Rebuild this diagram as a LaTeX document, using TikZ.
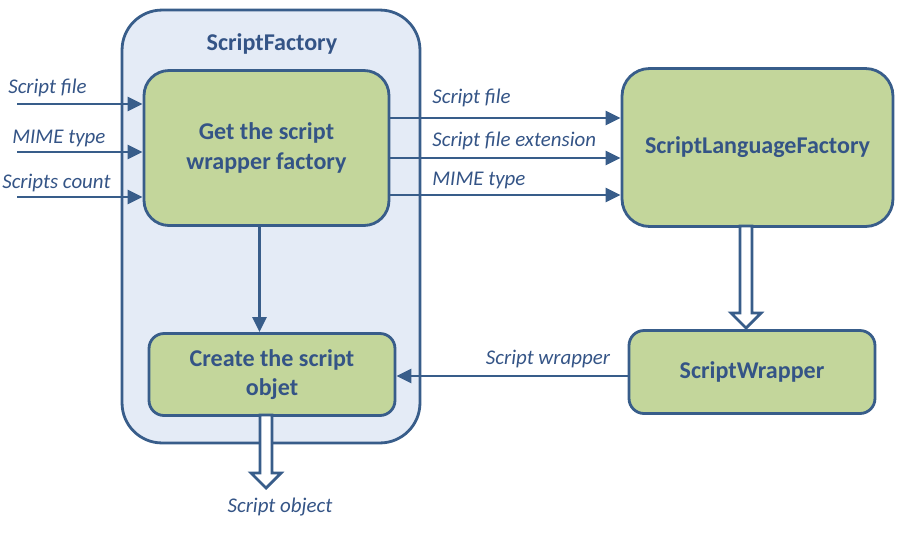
\documentclass[tikz,border=0pt]{standalone}
\usepackage{fontspec}
\setmainfont{Carlito}
\usetikzlibrary{arrows.meta,calc}
\definecolor{sfline}{RGB}{56,93,138}
\definecolor{sftext}{RGB}{52,84,134}
\definecolor{sfgreen}{RGB}{195,214,155}
\definecolor{sfpale}{RGB}{228,235,246}
\newcommand{\hollowdown}[2]{\draw[hollow] ($(#1)+(-6,0)$) -- ($(#2)+(-6,-15)$) -- ($(#2)+(-15,-15)$) -- (#2) -- ($(#2)+(15,-15)$) -- ($(#2)+(6,-15)$) -- ($(#1)+(6,0)$) -- cycle;}
\begin{document}
\begin{tikzpicture}[x=0.02cm, y=-0.02cm,
		box/.style={draw=sfline, fill=sfgreen, line width=1.6pt, inner sep=0pt, text=sftext, align=center, font=\bfseries\fontsize{13.7}{16.8}\selectfont},
		lbl/.style={text=sftext, inner sep=0pt, font=\itshape\fontsize{11.9}{13}\selectfont},
		arr/.style={draw=sfline, line width=1.6pt, -{Triangle[length=0.3cm,width=0.28cm]}},
		hollow/.style={draw=sfline, fill=white, line width=1.6pt, line join=miter}]
				\useasboundingbox (0,0) rectangle (906,545);
				\node (sf) [box, fill=sfpale, rounded corners=0.8cm, minimum width=5.96cm, minimum height=8.66cm] at (271,226.5) {};
				\node (title) [text=sftext, font=\bfseries\fontsize{13.7}{16}\selectfont] at (272,44) {ScriptFactory};
				\node (get) [box, rounded corners=0.5cm, minimum width=4.9cm, minimum height=3.1cm] at (266.5,148) {Get the script\\wrapper factory};
				\node (create) [box, rounded corners=0.3cm, minimum width=4.92cm, minimum height=1.64cm] at (272,374.5) {Create the script\\objet};
				\node (slf) [box, rounded corners=0.55cm, minimum width=5.42cm, minimum height=3.16cm] at (757.5,147.5) {ScriptLanguageFactory};
				\node (sw) [box, rounded corners=0.3cm, minimum width=4.92cm, minimum height=1.66cm] at (752,372) {ScriptWrapper};
				
				\coordinate (in1) at (17,104);
				\coordinate (in2) at (17,152);
				\coordinate (in3) at (17,197);
				\node (l1) [lbl, anchor=west] at (8,88) {Script file};
				\node (l2) [lbl, anchor=west] at (12,138) {MIME type};
				\node (l3) [lbl, anchor=west] at (2,183) {Scripts count};
				\draw[arr] (in1) -- (in1 -| get.west);
				\draw[arr] (in2) -- (in2 -| get.west);
				\draw[arr] (in3) -- (in3 -| get.west);
				
				\coordinate (out1) at (389,118);
				\coordinate (out2) at (389,158);
				\coordinate (out3) at (389,195);
				\node (r1) [lbl, anchor=west] at (432,97.5) {Script file};
				\node (r2) [lbl, anchor=west] at (432,140.5) {Script file extension};
				\node (r3) [lbl, anchor=west] at (432,180.5) {MIME type};
				\draw[arr] (out1) -- (out1 -| slf.west);
				\draw[arr] (out2) -- (out2 -| slf.west);
				\draw[arr] (out3) -- (out3 -| slf.west);
				
				\draw[arr] (get.south -| 259.5,0) -- (create.north -| 259.5,0);
				\draw[arr] (sw.west |- 0,376) -- (create.east |- 0,376);
				\node (wl) [lbl] at (548,358.5) {Script wrapper};
				
				\coordinate (slfout) at (746,226);
				\coordinate (swin) at (746,328);
				\coordinate (crout) at (266,415);
				\coordinate (crtip) at (266,488);
				\hollowdown{slfout}{swin}
				\hollowdown{crout}{crtip}
				\node (ol) [lbl] at (280,507.5) {Script object};
			\end{tikzpicture}
\end{document}
